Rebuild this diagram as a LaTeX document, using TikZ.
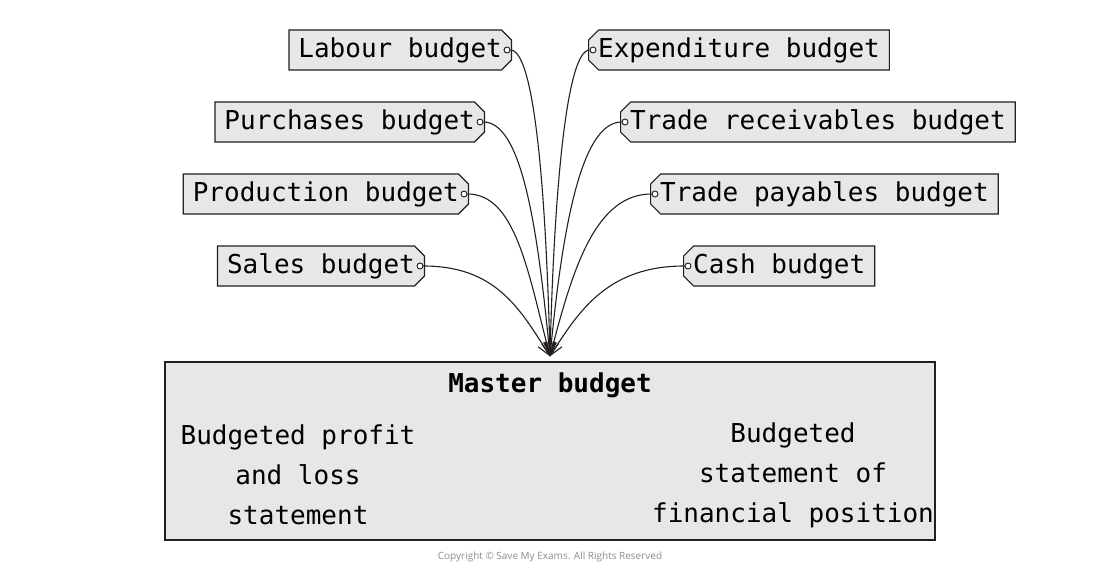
\documentclass[tikz,border=0pt]{standalone}
\usepackage{fontspec}
\setmonofont{DejaVu Sans Mono}
\setsansfont{Open Sans}
\usepackage{xcolor}
\usetikzlibrary{shapes.misc,arrows.meta,positioning}
\definecolor{tagfill}{HTML}{E6E7E8}
\definecolor{tagline}{HTML}{231F20}

\begin{document}
\begin{tikzpicture}[x=1pt,y=1pt,line width=1.2pt,
	txt/.style={font=\ttfamily\fontsize{26}{40}\selectfont},
	tag/.style={txt,chamfered rectangle,chamfered rectangle sep=5pt,draw=tagline,fill=tagfill,minimum height=40pt,inner xsep=4.5pt,inner ysep=0pt},
	ltag/.style={tag,chamfered rectangle corners={north east,south east},anchor=east},
	rtag/.style={tag,chamfered rectangle corners={north west,south west},anchor=west},
	dot/.style={circle,draw=tagline,fill=white,line width=0.9pt,inner sep=0pt,minimum size=6pt},
	conn/.style={draw=tagline,line width=1.1pt,-{Straight Barb[length=13pt,width=10pt]}}]
	\useasboundingbox (0,0) rectangle (1100,574);

	\node[ltag] (lab) at (512,524) {Labour budget};
	\node[ltag] (pur) at (485,452) {Purchases budget};
	\node[ltag] (pro) at (469,380) {Production budget};
	\node[ltag] (sal) at (425,308) {Sales budget};

	\node[rtag] (exp) at (588,524) {Expenditure budget};
	\node[rtag] (rec) at (620,452) {Trade receivables budget};
	\node[rtag] (pay) at (650,380) {Trade payables budget};
	\node[rtag] (cas) at (683,308) {Cash budget};

	\node[draw=tagline,fill=tagfill,minimum width=770pt,minimum height=178pt] (mas) at (550,123) {};
	\node[txt,font=\ttfamily\bfseries\fontsize{26}{40}\selectfont] (mas-t) at (550,189) {Master budget};
	\node[txt,align=center] (mas-l) at (298,99) {Budgeted profit\\and loss\\statement};
	\node[txt,align=center] (mas-r) at (793,99) {Budgeted\\statement of\\financial position};
	\coordinate (tip) at ([yshift=5pt]mas.north);

	% connection dots
	\foreach \n in {lab,pur,pro,sal}
		\node[dot] (\n-d) at ([xshift=-5pt]\n.east) {};
	\foreach \n in {exp,rec,pay,cas}
		\node[dot] (\n-d) at ([xshift=5pt]\n.west) {};

	\draw[conn] (lab-d.east) .. controls +(24,0) and +(-4,165) .. (tip);
	\draw[conn] (pur-d.east) .. controls +(39,0) and +(-12,125) .. (tip);
	\draw[conn] (pro-d.east) .. controls +(48,0) and +(-22,85) .. (tip);
	\draw[conn] (sal-d.east) .. controls +(72,0) and +(-30,48) .. (tip);
	\draw[conn] (exp-d.west) .. controls +(-23,0) and +(4,165) .. (tip);
	\draw[conn] (rec-d.west) .. controls +(-41,0) and +(12,125) .. (tip);
	\draw[conn] (pay-d.west) .. controls +(-57,0) and +(22,85) .. (tip);
	\draw[conn] (cas-d.west) .. controls +(-75,0) and +(30,48) .. (tip);

	\node[font=\sffamily\fontsize{10}{12}\selectfont,text=black!45] (copy) at (550,17) {Copyright © Save My Exams. All Rights Reserved};
\end{tikzpicture}
\end{document}
